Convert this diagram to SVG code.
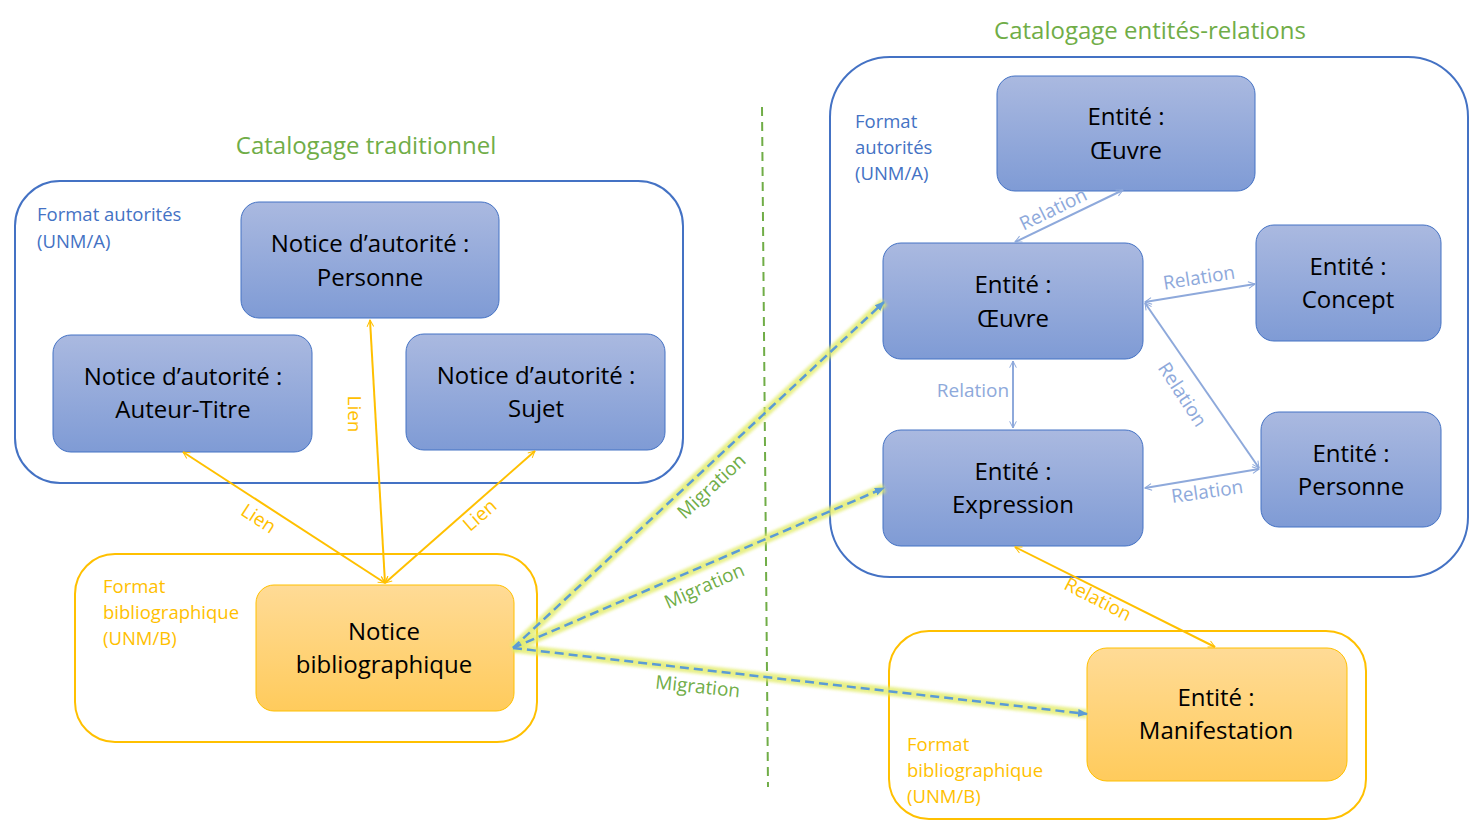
<svg xmlns="http://www.w3.org/2000/svg" width="1477" height="830" viewBox="0 0 1477 830">
<style>
  text{font-family:"Open Sans","Liberation Sans",sans-serif;}
  .node{fill:url(#gb);stroke:#4472C4;stroke-width:1;}
  .onode{fill:url(#go);stroke:#FFC000;stroke-width:1;}
  .ntxt{font-size:24px;fill:#000;text-anchor:middle;}
  .title{font-size:24px;fill:#70AD47;text-anchor:middle;}
  .blab{font-size:18.5px;fill:#4472C4;}
  .olab{font-size:18.5px;fill:#FFC000;}
  .bcont{fill:none;stroke:#4472C4;stroke-width:2;}
  .ocont{fill:none;stroke:#FFC000;stroke-width:2;}
  .lien{stroke:#FFC000;stroke-width:2;fill:none;marker-start:url(#ao);marker-end:url(#ao);}
  .rel{stroke:#8EA9DB;stroke-width:2;fill:none;marker-start:url(#ab);marker-end:url(#ab);}
  .glow{stroke:#E2EC6A;stroke-width:9;fill:none;opacity:0.8;filter:url(#blur);}
  .mig{stroke:#5B9BD5;stroke-width:2.5;stroke-dasharray:9 5;fill:none;marker-end:url(#am);}
  .ltxt{font-size:19px;fill:#FFC000;text-anchor:middle;}
  .rtxt{font-size:19px;fill:#8EA9DB;text-anchor:middle;}
  .mtxt{font-size:19px;fill:#70AD47;text-anchor:middle;}
</style>
<defs>
  <linearGradient id="gb" x1="0" y1="0" x2="0" y2="1">
    <stop offset="0" stop-color="#AAB9E0"/>
    <stop offset="1" stop-color="#7F9BD5"/>
  </linearGradient>
  <linearGradient id="go" x1="0" y1="0" x2="0" y2="1">
    <stop offset="0" stop-color="#FFDB96"/>
    <stop offset="1" stop-color="#FFCB5C"/>
  </linearGradient>
  <filter id="blur" x="-10%" y="-10%" width="120%" height="120%">
    <feGaussianBlur stdDeviation="1.5"/>
  </filter>
  <marker id="ao" viewBox="0 0 12 12" refX="11" refY="6" markerWidth="8" markerHeight="8" markerUnits="userSpaceOnUse" orient="auto-start-reverse">
    <path d="M1,1 L11,6 L1,11" fill="none" stroke="#FFC000" stroke-width="1.5"/>
  </marker>
  <marker id="ab" viewBox="0 0 12 12" refX="11" refY="6" markerWidth="8" markerHeight="8" markerUnits="userSpaceOnUse" orient="auto-start-reverse">
    <path d="M1,1 L11,6 L1,11" fill="none" stroke="#8EA9DB" stroke-width="1.5"/>
  </marker>
  <marker id="am" viewBox="0 0 10 10" refX="9" refY="5" markerWidth="10" markerHeight="10" markerUnits="userSpaceOnUse" orient="auto">
    <path d="M0,1 L10,5 L0,9 Z" fill="#5B9BD5"/>
  </marker>
</defs>
<rect width="1477" height="830" fill="#fff"/>

<!-- containers -->
<g id="left-authority">
  <rect class="bcont" x="15" y="181" width="668" height="302" rx="45"/>
  <text class="blab" x="37" y="221">Format autorités</text>
  <text class="blab" x="37" y="248">(UNM/A)</text>
</g>
<g id="left-biblio">
  <rect class="ocont" x="75" y="554" width="462" height="188" rx="40"/>
  <text class="olab" x="103" y="593">Format</text>
  <text class="olab" x="103" y="619">bibliographique</text>
  <text class="olab" x="103" y="645">(UNM/B)</text>
</g>
<g id="right-authority">
  <rect class="bcont" x="830" y="57" width="638" height="520" rx="60"/>
  <text class="blab" x="855" y="128">Format</text>
  <text class="blab" x="855" y="154">autorités</text>
  <text class="blab" x="855" y="180">(UNM/A)</text>
</g>
<g id="right-biblio">
  <rect class="ocont" x="889" y="631" width="477" height="188" rx="40"/>
  <text class="olab" x="907" y="751">Format</text>
  <text class="olab" x="907" y="777">bibliographique</text>
  <text class="olab" x="907" y="803">(UNM/B)</text>
</g>

<g id="titles">
  <text class="title" x="366" y="154">Catalogage traditionnel</text>
  <text class="title" x="1150" y="39">Catalogage entités-relations</text>
</g>

<line id="divider" x1="762" y1="107" x2="768" y2="787" stroke="#70AD47" stroke-width="2" stroke-dasharray="9 6"/>

<!-- nodes -->
<g id="n-personne">
  <rect class="node" x="241" y="202" width="258" height="116" rx="18"/>
  <text class="ntxt" x="370" y="252">Notice d’autorité :</text>
  <text class="ntxt" x="370" y="286">Personne</text>
</g>
<g id="n-auteur-titre">
  <rect class="node" x="53" y="335" width="259" height="117" rx="18"/>
  <text class="ntxt" x="183" y="385">Notice d’autorité :</text>
  <text class="ntxt" x="183" y="418">Auteur-Titre</text>
</g>
<g id="n-sujet">
  <rect class="node" x="406" y="334" width="259" height="116" rx="18"/>
  <text class="ntxt" x="536" y="384">Notice d’autorité :</text>
  <text class="ntxt" x="536" y="417">Sujet</text>
</g>
<g id="n-notice-biblio">
  <rect class="onode" x="256" y="585" width="258" height="126" rx="18"/>
  <text class="ntxt" x="384" y="640">Notice</text>
  <text class="ntxt" x="384" y="673">bibliographique</text>
</g>
<g id="n-oeuvre-top">
  <rect class="node" x="997" y="76" width="258" height="115" rx="18"/>
  <text class="ntxt" x="1126" y="125">Entité :</text>
  <text class="ntxt" x="1126" y="159">Œuvre</text>
</g>
<g id="n-oeuvre">
  <rect class="node" x="883" y="243" width="260" height="116" rx="18"/>
  <text class="ntxt" x="1013" y="293">Entité :</text>
  <text class="ntxt" x="1013" y="327">Œuvre</text>
</g>
<g id="n-concept">
  <rect class="node" x="1256" y="225" width="185" height="116" rx="18"/>
  <text class="ntxt" x="1348" y="275">Entité :</text>
  <text class="ntxt" x="1348" y="308">Concept</text>
</g>
<g id="n-expression">
  <rect class="node" x="883" y="430" width="260" height="116" rx="18"/>
  <text class="ntxt" x="1013" y="480">Entité :</text>
  <text class="ntxt" x="1013" y="513">Expression</text>
</g>
<g id="n-personne-e">
  <rect class="node" x="1261" y="412" width="180" height="115" rx="18"/>
  <text class="ntxt" x="1351" y="462">Entité :</text>
  <text class="ntxt" x="1351" y="495">Personne</text>
</g>
<g id="n-manifestation">
  <rect class="onode" x="1087" y="648" width="260" height="133" rx="20"/>
  <text class="ntxt" x="1216" y="706">Entité :</text>
  <text class="ntxt" x="1216" y="739">Manifestation</text>
</g>

<!-- connectors -->
<g id="connectors">
  <line class="lien" x1="385" y1="583" x2="183" y2="452"/>
  <line class="lien" x1="385" y1="583" x2="370" y2="320"/>
  <line class="lien" x1="385" y1="583" x2="535" y2="451"/>
  <text class="ltxt" transform="translate(255,524) rotate(33)">Lien</text>
  <text class="ltxt" transform="translate(348,414) rotate(90)">Lien</text>
  <text class="ltxt" transform="translate(484,520) rotate(-41)">Lien</text>

  <line class="rel" x1="1015" y1="242" x2="1123" y2="190"/>
  <line class="rel" x1="1145" y1="302" x2="1255" y2="284"/>
  <line class="rel" x1="1013" y1="361" x2="1013" y2="428"/>
  <line class="rel" x1="1145" y1="303" x2="1259" y2="468"/>
  <line class="rel" x1="1145" y1="488" x2="1259" y2="469"/>
  <text class="rtxt" transform="translate(1056,215) rotate(-26)">Relation</text>
  <text class="rtxt" transform="translate(1200,284) rotate(-9)">Relation</text>
  <text class="rtxt" x="973" y="397">Relation</text>
  <text class="rtxt" transform="translate(1177,398) rotate(57)">Relation</text>
  <text class="rtxt" transform="translate(1208,498) rotate(-8)">Relation</text>

  <line class="lien" x1="1015" y1="547" x2="1215" y2="647"/>
  <text class="ltxt" transform="translate(1095,605) rotate(27)">Relation</text>

  <line class="glow" x1="513" y1="648" x2="884" y2="302"/>
  <line class="glow" x1="513" y1="648" x2="884" y2="488"/>
  <line class="glow" x1="513" y1="648" x2="1087" y2="714"/>
  <line class="mig" x1="513" y1="648" x2="884" y2="302"/>
  <line class="mig" x1="513" y1="648" x2="884" y2="488"/>
  <line class="mig" x1="513" y1="648" x2="1087" y2="714"/>
  <text class="mtxt" transform="translate(716,491) rotate(-43)">Migration</text>
  <text class="mtxt" transform="translate(707,592) rotate(-24)">Migration</text>
  <text class="mtxt" transform="translate(697,693) rotate(6)">Migration</text>
</g>
</svg>
